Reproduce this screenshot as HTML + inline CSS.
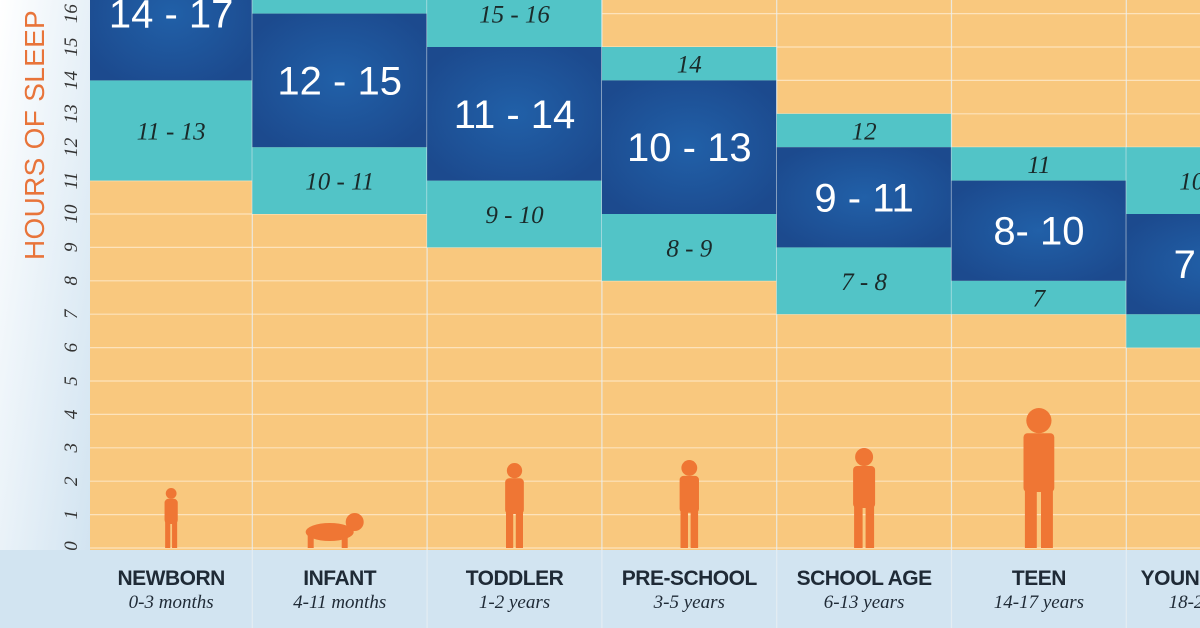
<!DOCTYPE html>
<html><head><meta charset="utf-8">
<style>
html,body{margin:0;padding:0;}
body{width:1200px;height:628px;overflow:hidden;background:linear-gradient(180deg,#ffffff 0%,#e9f2f9 40%,#d3e5f2 100%);font-family:"Liberation Sans",sans-serif;}
svg{display:block;}
</style></head>
<body>
<svg id="chart" width="1200" height="628">
<defs>
<radialGradient id="dk" cx="50%" cy="50%" r="60%">
<stop offset="0%" stop-color="#2160a8"/><stop offset="100%" stop-color="#1c4a8e"/>
</radialGradient>
<linearGradient id="leftbg" x1="0" y1="0" x2="1" y2="1">
<stop offset="0" stop-color="#ffffff"/><stop offset="1" stop-color="#cfe2f0"/>
</linearGradient>
</defs>
<rect x="0" y="0" width="90" height="628" fill="url(#leftbg)"/>
<rect x="0" y="550" width="1200" height="78" fill="#d2e4f1"/>
<g id="plot"></g>
<text transform="translate(44,135) rotate(-90)" text-anchor="middle" font-size="28" fill="#e8743a" font-family="Liberation Sans, sans-serif" letter-spacing="0.3">HOURS OF SLEEP</text>
</svg>
<script>
const categories=["NEWBORN","INFANT","TODDLER","PRE-SCHOOL","SCHOOL AGE","TEEN","YOUNG ADULT"];
const ageRanges=["0-3 months","4-11 months","1-2 years","3-5 years","6-13 years","14-17 years","18-25 years"];
const recLow=[14,12,11,10,9,8,7];
const recHigh=[17,15,14,13,11,10,9];
const recLabels=["14 - 17","12 - 15","11 - 14","10 - 13","9 - 11","8- 10","7 - 9"];
const lowLow=[11,10,9,8,7,7,6];
const lowHigh=[13,11,10,9,8,7,6];
const lowLabels=["11 - 13","10 - 11","9 - 10","8 - 9","7 - 8","7","6"];
const hiLow=[null,16,15,14,12,11,10];
const hiHigh=[null,18,16,14,12,11,11];
const hiLabels=["","","15 - 16","14","12","11","10 - 11"];
const yTicks=[0,1,2,3,4,5,6,7,8,9,10,11,12,13,14,15,16];

const NS="http://www.w3.org/2000/svg";
const plot=document.getElementById('plot');
const y0=548,unit=33.4;
function y(h){return y0-h*unit;}
const colW=174.8,firstX=77.5;
function xL(i){return Math.max(90,firstX+i*colW);}
function xR(i){return firstX+(i+1)*colW;}
function xC(i){return (xL(i)+xR(i))/2;}
function el(t,a){const e=document.createElementNS(NS,t);for(const k in a)e.setAttribute(k,a[k]);return e;}

const bg=el('rect',{x:90,y:0,width:1110,height:550,fill:'#f9c87e'});


plot.appendChild(bg);
yTicks.forEach(t=>{
  const l=el('line',{x1:90,x2:1200,y1:y(t),y2:y(t),stroke:'#fde3bc','stroke-width':1.2});
  
  
  plot.appendChild(l);
  const tx=el('text',{transform:`translate(77,${y(t)+(t===0?-2:0)}) rotate(-90)`,'text-anchor':'middle','font-size':19,fill:'#333','font-family':'Liberation Serif, serif','font-style':'italic'});
  tx.textContent=t;
  
  
  plot.appendChild(tx);
});
function block(i,lo,hi,fill,name){
  const r=el('rect',{x:xL(i),y:y(hi+1),width:xR(i)-xL(i),height:(hi+1-lo)*unit,fill:fill});
  
  
  plot.appendChild(r);
}
function label(i,lo,hi,txt,dark,name){
  const cy=(y(lo)+y(hi+1))/2;
  const t=el('text',dark?{x:xC(i),y:cy+14,'text-anchor':'middle','font-size':40,fill:'#fff','font-family':'Liberation Sans, sans-serif'}:
    {x:xC(i),y:cy+9,'text-anchor':'middle','font-size':25,fill:'#1a2a2a','font-family':'Liberation Serif, serif','font-style':'italic'});
  t.textContent=txt;
  
  
  plot.appendChild(t);
}
categories.forEach((c,i)=>{
  block(i,lowLow[i],lowHigh[i],'#52c4c7','may-be-appropriate-low-'+i);
  if(hiLow[i]!==null)block(i,hiLow[i],hiHigh[i],'#52c4c7','may-be-appropriate-high-'+i);
  block(i,recLow[i],recHigh[i],'url(#dk)','recommended-'+i);
  label(i,lowLow[i],lowHigh[i],lowLabels[i],false,'low-label-'+i);
  if(hiLabels[i])label(i,hiLow[i],hiHigh[i],hiLabels[i],false,'high-label-'+i);
  label(i,recLow[i],recHigh[i],recLabels[i],true,'recommended-label-'+i);
  const sep=el('line',{x1:xR(i),x2:xR(i),y1:0,y2:628,stroke:'#e9f0f4','stroke-width':1.2,opacity:0.8});
  
  
  plot.appendChild(sep);
  const n=el('text',{x:xC(i),y:585,'text-anchor':'middle','font-size':21,'font-weight':'bold',fill:'#1f2a36','letter-spacing':'-0.5'});
  n.textContent=c;
  
  
  plot.appendChild(n);
  const a=el('text',{x:xC(i),y:608,'text-anchor':'middle','font-size':19,fill:'#1f2a36','font-family':'Liberation Serif, serif','font-style':'italic'});
  a.textContent=ageRanges[i];
  
  
  plot.appendChild(a);
  const hts=[60,50,85,88,100,140,120];
  const h=hts[i],cx=xC(i)+(i===1?-10:0),by=548;
  const g=el('g',{fill:'#ef7634'});
  
  
  if(i===1){
    g.appendChild(el('circle',{cx:cx+25,cy:by-26,r:9}));
    g.appendChild(el('ellipse',{cx:cx,cy:by-16,rx:24,ry:9}));
    g.appendChild(el('rect',{x:cx-22,y:by-14,width:6,height:14}));
    g.appendChild(el('rect',{x:cx+12,y:by-14,width:6,height:14}));
  } else {
    const hr=h*0.09;
    g.appendChild(el('circle',{cx:cx,cy:by-h+hr,r:hr}));
    g.appendChild(el('rect',{x:cx-h*0.11,y:by-h+hr*2,width:h*0.22,height:h*0.42,rx:4}));
    g.appendChild(el('rect',{x:cx-h*0.1,y:by-h*0.45,width:h*0.085,height:h*0.45}));
    g.appendChild(el('rect',{x:cx+h*0.015,y:by-h*0.45,width:h*0.085,height:h*0.45}));
  }
  plot.appendChild(g);
});
</script>
</body></html>
